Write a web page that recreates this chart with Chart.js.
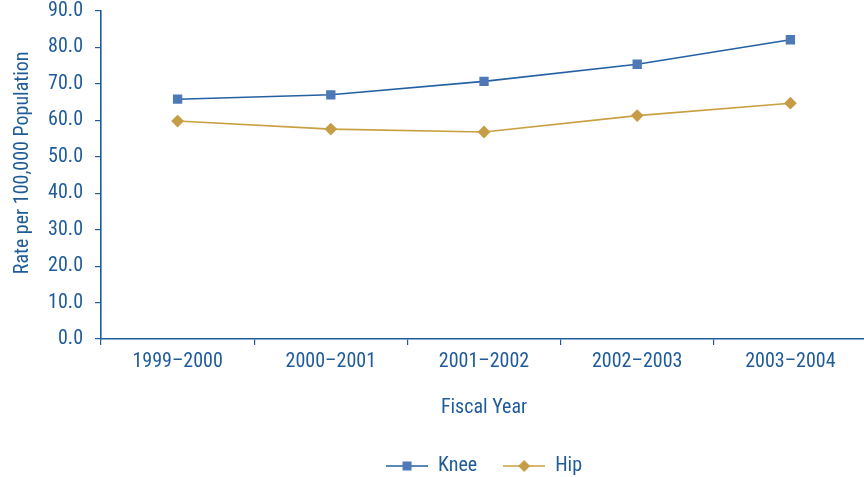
<!DOCTYPE html>
<html>
<head>
<meta charset="utf-8">
<script src="https://cdn.jsdelivr.net/npm/chart.js@4/dist/chart.umd.min.js"></script>
<style>
  html, body { margin: 0; padding: 0; background: #fff; overflow: hidden; }
  #wrap { width: 864px; height: 477px; overflow: hidden; }
</style>
</head>
<body>
<div id="wrap"><canvas id="c" width="867" height="477"></canvas></div>
<script>
// Fiscal years on the x axis
const fiscalYears = ['1999\u20132000', '2000\u20132001', '2001\u20132002', '2002\u20132003', '2003\u20132004'];
// Rates per 100,000 population
const kneeRates = [65.8, 67.0, 70.7, 75.4, 82.1];
const hipRates = [59.8, 57.6, 56.8, 61.3, 64.7];
// y axis range and step
const yMin = 0;
const yMax = 90;
const yStep = 10;
const yTitle = 'Rate per 100,000 Population';

const TEXT = '#1f5b98';
const FONT = "'Liberation Sans Narrow', 'Roboto Condensed', 'Liberation Sans', Arial, sans-serif";
const KNEE_LINE = '#2461a3';
const KNEE_MARK = '#4f79b6';
const HIP_LINE = '#c9a040';
const HIP_MARK = '#c69d45';

// Legend swatch: a short line with the series marker in the middle
function legendSwatch(lineColor, markColor, shape) {
  const cv = document.createElement('canvas');
  cv.width = 42; cv.height = 14;
  const g = cv.getContext('2d');
  g.strokeStyle = lineColor; g.lineWidth = 1.5;
  g.beginPath(); g.moveTo(0, 7); g.lineTo(42, 7); g.stroke();
  g.fillStyle = markColor;
  if (shape === 'square') {
    g.fillRect(21 - 4.5, 7 - 4.5, 9, 9);
  } else {
    g.beginPath();
    g.moveTo(21, 1); g.lineTo(27, 7); g.lineTo(21, 13); g.lineTo(15, 7); g.closePath(); g.fill();
  }
  return cv;
}

const swatches = [
  legendSwatch(KNEE_LINE, KNEE_MARK, 'square'),
  legendSwatch(HIP_LINE, HIP_MARK, 'diamond')
];

// Vertical axis title, set a little above the middle of the plot
const yTitlePlugin = {
  id: 'yTitle',
  afterDraw(chart) {
    const { ctx, chartArea } = chart;
    ctx.save();
    ctx.fillStyle = TEXT;
    ctx.font = '20px ' + FONT;
    ctx.textAlign = 'center';
    ctx.textBaseline = 'middle';
    ctx.translate(23, chartArea.top + chartArea.height * 0.463);
    ctx.rotate(-Math.PI / 2);
    ctx.fillText(yTitle, 0, 0);
    ctx.restore();
  }
};

new Chart(document.getElementById('c'), {
  type: 'line',
  data: {
    labels: fiscalYears,
    datasets: [
      {
        label: 'Knee',
        data: kneeRates,
        borderColor: KNEE_LINE,
        backgroundColor: KNEE_MARK,
        borderWidth: 1.6,
        pointStyle: 'rect',
        pointRadius: 6.6,
        pointBorderWidth: 0,
        pointBackgroundColor: KNEE_MARK,
        tension: 0
      },
      {
        label: 'Hip',
        data: hipRates,
        borderColor: HIP_LINE,
        backgroundColor: HIP_MARK,
        borderWidth: 1.6,
        pointStyle: 'rectRot',
        pointRadius: 6.4,
        pointBorderWidth: 0,
        pointBackgroundColor: HIP_MARK,
        tension: 0
      }
    ]
  },
  plugins: [yTitlePlugin],
  options: {
    responsive: false,
    animation: false,
    devicePixelRatio: 1,
    layout: { autoPadding: false, padding: { top: 11, left: 0, right: 0, bottom: -9 } },
    plugins: {
      tooltip: { enabled: false },
      legend: {
        position: 'bottom',
        fullSize: false,
        labels: {
          usePointStyle: true,
          pointStyleWidth: 42,
          padding: 26,
          color: TEXT,
          font: { family: FONT, size: 20 },
          generateLabels(chart) {
            return chart.data.datasets.map((ds, i) => ({
              text: ds.label,
              pointStyle: swatches[i],
              fillStyle: ds.backgroundColor,
              strokeStyle: ds.borderColor,
              lineWidth: 0,
              fontColor: TEXT,
              hidden: false,
              datasetIndex: i
            }));
          }
        }
      }
    },
    scales: {
      x: {
        offset: true,
        grid: {
          offset: true,
          drawOnChartArea: false,
          drawTicks: true,
          tickLength: 6,
          color: TEXT,
          lineWidth: 1.2
        },
        border: { display: true, color: TEXT, width: 1.6 },
        ticks: {
          color: TEXT,
          font: { family: FONT, size: 20 },
          padding: 5,
          maxRotation: 0
        },
        title: {
          display: true,
          text: 'Fiscal Year',
          color: TEXT,
          font: { family: FONT, size: 20 },
          padding: { top: 0, bottom: 10 }
        },
        afterFit(scale) {
          scale.height = 91;
          scale.paddingLeft = 0;
          scale.paddingRight = 0;
        }
      },
      y: {
        min: yMin,
        max: yMax,
        grid: {
          drawOnChartArea: false,
          drawTicks: true,
          tickLength: 6,
          color: TEXT,
          lineWidth: 1.2
        },
        border: { display: true, color: TEXT, width: 1.6 },
        ticks: {
          stepSize: yStep,
          color: TEXT,
          font: { family: FONT, size: 20 },
          padding: 12,
          callback: (v) => Number(v).toFixed(1)
        },
        title: { display: false },
        afterFit(scale) {
          scale.width = 101;
          scale.paddingTop = 0;
          scale.paddingBottom = 0;
        }
      }
    }
  }
});
</script>
</body>
</html>
